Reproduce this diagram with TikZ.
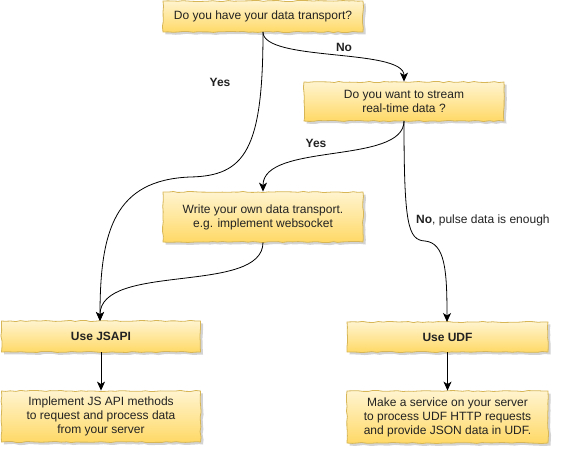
\documentclass[tikz,border=0pt]{standalone}
\usepackage{fontspec}
\setmainfont{Liberation Sans}
\usetikzlibrary{arrows.meta,shadows,decorations.pathmorphing}
\definecolor{boxtop}{HTML}{FFF4D0}
\definecolor{boxbot}{HTML}{FFD966}
\definecolor{boxline}{HTML}{D6B656}
\definecolor{txt}{HTML}{222222}
\pgfmathsetseed{7}
\tikzset{
  ybox/.style={draw=boxline, line width=0.8pt, top color=boxtop, bottom color=boxbot,
    decorate, decoration={random steps, segment length=5pt, amplitude=0.6pt},
    drop shadow={shadow xshift=2.5pt, shadow yshift=-2.5pt, opacity=0.35, fill=gray},
    align=center, inner sep=0pt, text=txt, font=\fontsize{12}{14}\selectfont},
  conn/.style={draw=black, line width=0.8pt, -{Stealth[length=9pt,width=8pt,inset=2.5pt]}},
  lbl/.style={text=txt, font=\fontsize{12}{14}\selectfont\bfseries, inner sep=0pt},
}
\begin{document}
\begin{tikzpicture}[x=1pt,y=-1pt]
\useasboundingbox (0,0) rectangle (572,452);
\node[ybox, minimum width=200pt, minimum height=31pt] (q1) at (263,16.5) {Do you have your data transport?};
\node[ybox, minimum width=200pt, minimum height=39pt] (q2) at (404,101.5) {Do you want to stream\\real-time data ?};
\node[ybox, minimum width=200pt, minimum height=50pt] (w) at (263,217) {Write your own data transport.\\e.g. implement websocket};
\node[ybox, minimum width=199pt, minimum height=31pt, font=\fontsize{12}{14}\selectfont\bfseries] (js) at (101,336.5) {Use JSAPI};
\node[ybox, minimum width=199pt, minimum height=51pt] (jsi) at (101,416.5) {Implement JS API methods\\to request and process data\\from your server};
\node[ybox, minimum width=201pt, minimum height=30pt, font=\fontsize{12}{14}\selectfont\bfseries] (udf) at (447.5,337) {Use UDF};
\node[ybox, minimum width=201pt, minimum height=52pt] (udfi) at (447.5,417) {Make a service on your server\\to process UDF HTTP requests\\and provide JSON data in UDF.};

\coordinate (q1s) at (263,32);
\coordinate (jsn) at (100,321);
\coordinate (q2s) at (404,121);
\coordinate (udfn) at (447,322);

% Yes: q1 -> JSAPI
\draw[conn] (q1s) .. controls (263,150) and (245,176) .. (190,177)
  .. controls (115,180) and (100,230) .. (jsn);
% No: q1 -> q2
\draw[conn] (q1s) .. controls (263,62) and (404,48) .. (q2.north);
% Yes: q2 -> w
\draw[conn] (q2s) .. controls (404,165) and (263,142) .. (w.north);
% No: q2 -> UDF
\draw[conn] (q2s) .. controls (404,225) and (408,240) .. (425,241)
  .. controls (445,243) and (447,270) .. (udfn);
% w -> JSAPI
\draw[conn] (w.south) .. controls (263,295) and (100,262) .. (jsn);
% straight
\draw[conn] (js.south) -- (jsi.north);
\draw[conn] (udf.south) -- (udfi.north);

\node[lbl] (lno) at (344,47) {No};
\node[lbl] (lyes1) at (220,82) {Yes};
\node[lbl] (lyes2) at (316,143) {Yes};
\node[lbl, anchor=west, font=\fontsize{12}{14}\selectfont] (lno2) at (416,220) {\textbf{No}, pulse data is enough};
\end{tikzpicture}
\end{document}
